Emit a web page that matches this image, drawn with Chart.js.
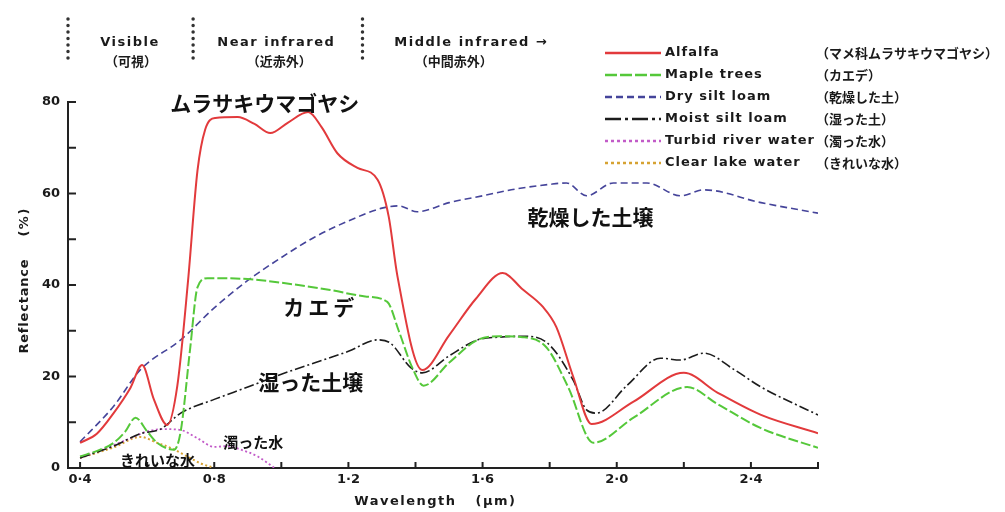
<!DOCTYPE html>
<html>
<head>
<meta charset="utf-8">
<script src="https://cdn.jsdelivr.net/npm/chart.js@4/dist/chart.umd.min.js"></script>
<style>
  html, body { margin: 0; padding: 0; background: #fff; }
</style>
</head>
<body>
<canvas id="reflectChart" width="1005" height="512"></canvas>
<script>
// [wavelength (µm), reflectance (%)]
const alfalfa = [
  [0.40, 5.5], [0.45, 7.5], [0.50, 12], [0.55, 17.5], [0.585, 22.5], [0.62, 15], [0.66, 9.4],
  [0.69, 18], [0.722, 41], [0.75, 65], [0.773, 74], [0.803, 76.5], [0.87, 76.7], [0.92, 75.2],
  [0.967, 73.2], [1.02, 75.5], [1.08, 77.8], [1.12, 74.5], [1.167, 68.8], [1.227, 65.6],
  [1.287, 63], [1.32, 55], [1.346, 42], [1.42, 21.4], [1.5, 29], [1.58, 37], [1.66, 42.6],
  [1.72, 39], [1.78, 35.2], [1.82, 30.8], [1.87, 20], [1.925, 9.6], [2.05, 14.5], [2.2, 20.8],
  [2.3, 16.5], [2.43, 11.6], [2.6, 7.6]
];
const mapleTrees = [
  [0.40, 2.5], [0.46, 4], [0.50, 5.5], [0.535, 8], [0.565, 11], [0.60, 8], [0.63, 5.5], [0.68, 4],
  [0.70, 8], [0.728, 26], [0.75, 39.5], [0.78, 41.5], [0.90, 41.3], [1.0, 40.5], [1.146, 38.9],
  [1.25, 37.5], [1.316, 36.3], [1.35, 30], [1.39, 22], [1.424, 18], [1.5, 23], [1.585, 28],
  [1.65, 28.8], [1.72, 28.6], [1.79, 26.4], [1.855, 17.7], [1.93, 5.5], [2.05, 11], [2.21, 17.7],
  [2.3, 14], [2.43, 8.7], [2.6, 4.4]
];
const drySiltLoam = [
  [0.40, 5.7], [0.50, 13.5], [0.58, 21.5], [0.70, 28], [0.80, 35], [0.90, 41], [1.0, 46],
  [1.1, 50.5], [1.2, 54], [1.3, 56.8], [1.35, 57.3], [1.405, 56], [1.5, 58], [1.6, 59.5],
  [1.7, 61], [1.8, 62], [1.85, 62.3], [1.91, 59.5], [1.99, 62.3], [2.09, 62.3], [2.19, 59.5],
  [2.26, 60.8], [2.43, 58], [2.6, 55.7]
];
const moistSiltLoam = [
  [0.40, 2.2], [0.50, 4.8], [0.58, 7.5], [0.64, 8.5], [0.70, 12], [0.80, 15], [0.90, 17.7],
  [1.0, 20.5], [1.1, 23], [1.2, 25.5], [1.286, 28], [1.325, 27.3], [1.385, 22], [1.42, 20.8],
  [1.5, 24.5], [1.585, 28], [1.65, 28.6], [1.72, 28.8], [1.79, 27.5], [1.87, 19.2], [1.91, 12.7],
  [1.94, 12], [2.03, 18], [2.13, 24], [2.19, 23.6], [2.26, 25.1], [2.35, 21.5], [2.43, 17.7],
  [2.6, 11.6]
];
const turbidRiverWater = [
  [0.40, 2.2], [0.50, 5], [0.55, 6.5], [0.60, 8], [0.65, 8.5], [0.70, 8.3], [0.75, 6.5],
  [0.80, 4.6], [0.84, 4.8], [0.88, 4], [0.93, 2.5], [0.98, 0]
];
const clearLakeWater = [
  [0.40, 2.2], [0.50, 4.5], [0.58, 6.8], [0.63, 5.5], [0.67, 4.4], [0.72, 2.5], [0.76, 1], [0.80, 0]
];

const seriesNames = ["Alfalfa", "Maple trees", "Dry silt loam", "Moist silt loam", "Turbid river water", "Clear lake water"];
const seriesNamesJa = ["（マメ科ムラサキウマゴヤシ）", "（カエデ）", "（乾燥した土）", "（湿った土）", "（濁った水）", "（きれいな水）"];

const xTickValues = [0.4, 0.6, 0.8, 1.0, 1.2, 1.4, 1.6, 1.8, 2.0, 2.2, 2.4, 2.6];
const xTickLabels = ["0·4", "", "0·8", "", "1·2", "", "1·6", "", "2·0", "", "2·4", ""];
const yTickValues = [0, 10, 20, 30, 40, 50, 60, 70, 80];
const yTickLabels = ["0", "", "20", "", "40", "", "60", "", "80"];

const EN = "bold 13px 'DejaVu Sans'";
const JA = "bold 13px 'Noto Sans CJK JP'";

function toXY(pairs) {
  return pairs.map(([x, y]) => ({ x: x, y: y }));
}

function seg(ctx, x1, y1, x2, y2) {
  ctx.beginPath();
  ctx.moveTo(x1, y1);
  ctx.lineTo(x2, y2);
  ctx.stroke();
}

// header bands, legend, labels, inward ticks and axis titles
const extras = {
  id: "extras",
  afterDraw(chart) {
    const ctx = chart.ctx;
    const xs = chart.scales.x;
    const ys = chart.scales.y;
    const area = chart.chartArea;
    ctx.save();

    // tick marks pointing into the plot
    ctx.strokeStyle = "#222";
    ctx.lineWidth = 2;
    xs.ticks.forEach((t) => {
      const px = xs.getPixelForValue(t.value);
      seg(ctx, px, area.bottom, px, area.bottom - 6);
    });
    ys.ticks.forEach((t) => {
      const py = ys.getPixelForValue(t.value);
      seg(ctx, area.left, py, area.left + 8, py);
    });

    // axis titles
    ctx.fillStyle = "#1a1a1a";
    ctx.font = EN;
    ctx.letterSpacing = "1.5px";
    ctx.textAlign = "center";
    ctx.textBaseline = "middle";
    ctx.fillText("Wavelength", xs.getPixelForValue(1.37), 502);
    ctx.fillText("(μm)", xs.getPixelForValue(1.64), 502);
    ctx.save();
    ctx.translate(25, ys.getPixelForValue(35.4));
    ctx.rotate(-Math.PI / 2);
    ctx.letterSpacing = "0.8px";
    ctx.fillText("Reflectance", 0, 0);
    ctx.restore();
    ctx.save();
    ctx.translate(25, ys.getPixelForValue(53.8));
    ctx.rotate(-Math.PI / 2);
    ctx.fillText("(%)", 0, 0);
    ctx.restore();

    // spectral regions along the top
    ctx.strokeStyle = "#333";
    ctx.lineWidth = 3.5;
    ctx.lineCap = "round";
    ctx.setLineDash([0, 6.5]);
    [0.364, 0.737, 1.242].forEach((w) => {
      const px = xs.getPixelForValue(w);
      seg(ctx, px, 19, px, 59);
    });
    ctx.setLineDash([]);
    ctx.lineCap = "butt";
    ctx.letterSpacing = "1.5px";
    ctx.font = EN;
    ctx.textAlign = "center";
    ctx.fillText("Visible", xs.getPixelForValue(0.549), 43);
    ctx.fillText("Near infrared", xs.getPixelForValue(0.985), 43);
    ctx.textAlign = "left";
    ctx.fillText("Middle infrared →", xs.getPixelForValue(1.337), 43);
    ctx.letterSpacing = "0px";
    ctx.font = JA;
    ctx.textAlign = "center";
    ctx.fillText("（可視）", xs.getPixelForValue(0.552), 61);
    ctx.fillText("（近赤外）", xs.getPixelForValue(0.994), 61);
    ctx.fillText("（中間赤外）", xs.getPixelForValue(1.514), 61);

    // legend
    chart.data.datasets.forEach((ds, i) => {
      const ly = 53 + i * 22;
      ctx.strokeStyle = ds.borderColor;
      ctx.lineWidth = 2.5;
      ctx.setLineDash(ds.legendDash || []);
      seg(ctx, 605, ly, 661, ly);
      ctx.setLineDash([]);
      ctx.fillStyle = "#1a1a1a";
      ctx.textAlign = "left";
      ctx.font = EN;
      ctx.letterSpacing = "1px";
      ctx.fillText(ds.label, 665, ly);
      ctx.letterSpacing = "0px";
      ctx.font = JA;
      ctx.fillText(seriesNamesJa[i], 816, ly);
    });

    // labels on the curves
    const notes = [
      { text: "ムラサキウマゴヤシ", x: 0.669, y: 79.8, size: 21, gap: 0 },
      { text: "乾燥した土壌", x: 1.734, y: 54.9, size: 21, gap: 0 },
      { text: "カエデ", x: 1.006, y: 35.2, size: 21, gap: 4 },
      { text: "湿った土壌", x: 0.931, y: 18.8, size: 21, gap: 0 },
      { text: "濁った水", x: 0.827, y: 5.7, size: 15, gap: 0 },
      { text: "きれいな水", x: 0.519, y: 1.75, size: 15, gap: 0 }
    ];
    ctx.fillStyle = "#111";
    ctx.textAlign = "left";
    notes.forEach((n) => {
      ctx.font = "bold " + n.size + "px 'Noto Sans CJK JP'";
      ctx.letterSpacing = n.gap + "px";
      ctx.fillText(n.text, xs.getPixelForValue(n.x), ys.getPixelForValue(n.y));
    });

    ctx.restore();
  }
};

const ctx = document.getElementById("reflectChart").getContext("2d");
const reflectChart = new Chart(ctx, {
  type: "line",
  data: {
    datasets: [
      {
        label: seriesNames[0],
        data: toXY(alfalfa),
        borderColor: "#e23a3c",
        borderWidth: 2,
        legendDash: []
      },
      {
        label: seriesNames[1],
        data: toXY(mapleTrees),
        borderColor: "#55c83a",
        borderWidth: 2,
        borderDash: [10, 3],
        legendDash: [12, 3]
      },
      {
        label: seriesNames[2],
        data: toXY(drySiltLoam),
        borderColor: "#45449a",
        borderWidth: 1.6,
        borderDash: [7, 4],
        legendDash: [7, 4]
      },
      {
        label: seriesNames[3],
        data: toXY(moistSiltLoam),
        borderColor: "#1c1c1c",
        borderWidth: 1.6,
        borderDash: [10, 3, 2, 3],
        legendDash: [16, 4, 3, 4]
      },
      {
        label: seriesNames[4],
        data: toXY(turbidRiverWater),
        borderColor: "#c25bc8",
        borderWidth: 1.8,
        borderDash: [2, 2.5],
        legendDash: [3, 3]
      },
      {
        label: seriesNames[5],
        data: toXY(clearLakeWater),
        borderColor: "#d6a232",
        borderWidth: 2,
        borderDash: [2, 2.5],
        legendDash: [3, 3]
      }
    ]
  },
  options: {
    responsive: false,
    animation: false,
    elements: {
      point: { radius: 0 },
      line: { cubicInterpolationMode: "monotone", fill: false }
    },
    layout: {
      padding: { top: 102, left: 8, right: 187, bottom: 0 }
    },
    plugins: {
      legend: { display: false },
      tooltip: { enabled: false }
    },
    scales: {
      x: {
        type: "linear",
        min: 0.364,
        max: 2.6,
        afterBuildTicks: (scale) => {
          scale.ticks = xTickValues.map((v) => ({ value: v }));
        },
        afterFit: (scale) => {
          scale.height = 44;
        },
        ticks: {
          autoSkip: false,
          maxRotation: 0,
          padding: 4,
          color: "#1a1a1a",
          font: { family: "DejaVu Sans", size: 13, weight: "bold" },
          callback: (value, index) => xTickLabels[index]
        },
        grid: { display: false, drawTicks: false },
        border: { display: true, color: "#222", width: 2 }
      },
      y: {
        min: 0,
        max: 80,
        afterBuildTicks: (scale) => {
          scale.ticks = yTickValues.map((v) => ({ value: v }));
        },
        afterFit: (scale) => {
          scale.width = 60;
        },
        ticks: {
          autoSkip: false,
          padding: 8,
          color: "#1a1a1a",
          font: { family: "DejaVu Sans", size: 13, weight: "bold" },
          callback: (value, index) => yTickLabels[index]
        },
        grid: { display: false, drawTicks: false },
        border: { display: true, color: "#222", width: 2 }
      }
    }
  },
  plugins: [extras]
});
</script>
</body>
</html>
